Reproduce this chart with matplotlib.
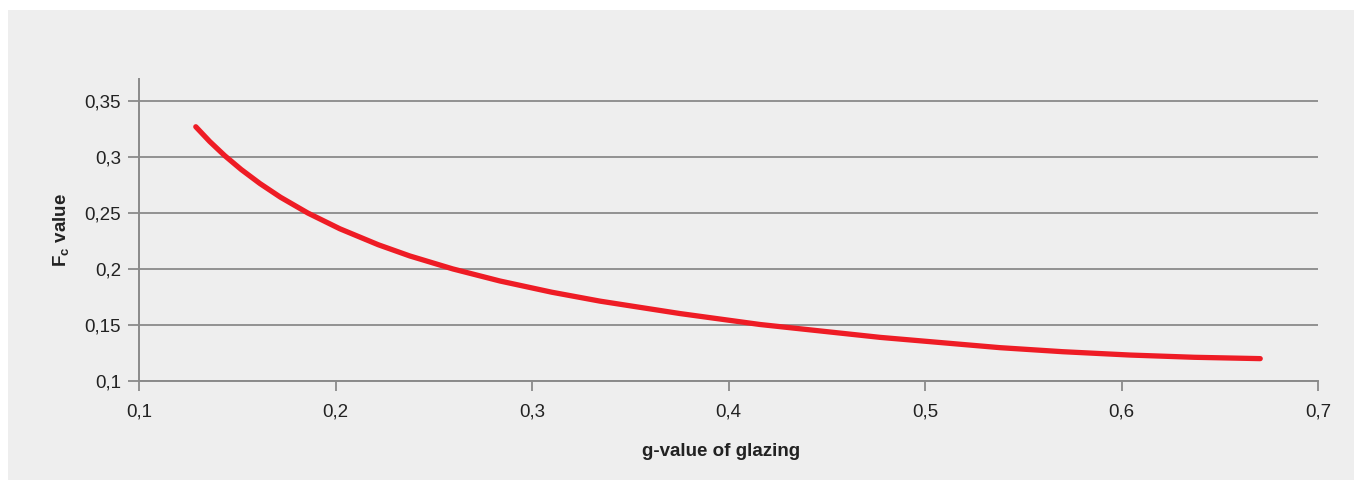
import numpy as np
import matplotlib
matplotlib.use('Agg')
import matplotlib.pyplot as plt
from matplotlib.ticker import FuncFormatter
from matplotlib.patches import Rectangle

# %% Data
g_value = [0.1289, 0.136, 0.1436, 0.152, 0.1615, 0.172, 0.1859, 0.2022, 0.2218, 0.2378,
           0.2597, 0.2837, 0.31, 0.3346, 0.3753, 0.4161, 0.4772, 0.5382, 0.57, 0.6044,
           0.637, 0.6706]
fc_value = [0.3273, 0.3141, 0.3015, 0.2891, 0.2766, 0.2643, 0.2502, 0.2361, 0.2218, 0.2118,
            0.2002, 0.1894, 0.1794, 0.1714, 0.1603, 0.1505, 0.1390, 0.1298, 0.1262, 0.1232,
            0.1212, 0.1200]
x_ticks = [0.1, 0.2, 0.3, 0.4, 0.5, 0.6, 0.7]
y_ticks = [0.1, 0.15, 0.2, 0.25, 0.3, 0.35]

# %% Style
plt.rcParams['font.family'] = ['Liberation Sans', 'DejaVu Sans']
plt.rcParams['mathtext.fontset'] = 'custom'
plt.rcParams['mathtext.rm'] = 'Liberation Sans:bold'
plt.rcParams['mathtext.it'] = 'Liberation Sans:bold'
plt.rcParams['mathtext.bf'] = 'Liberation Sans:bold'

bg = '#eeeeee'
axis_col = '#8a8a8a'
text_col = '#222222'

fig = plt.figure(figsize=(13.57, 4.8), dpi=100, facecolor='white')
# grey panel behind the chart
fig.patches.append(Rectangle((8 / 1357, 0), (1354 - 8) / 1357, (480 - 10) / 480,
                             transform=fig.transFigure, facecolor=bg, edgecolor='none', zorder=-5))

ax = fig.add_axes([139 / 1357, 99 / 480, 1179 / 1357, 302 / 480])
ax.set_facecolor(bg)

ax.plot(g_value, fc_value, color='#ee1c25', linewidth=3.8,
        solid_capstyle='round', solid_joinstyle='round', zorder=3)

ax.set_xlim(0.1, 0.7)
ax.set_ylim(0.1, 0.37)
ax.set_xticks(x_ticks)
ax.set_yticks(y_ticks)

fmt = FuncFormatter(lambda v, p: ('%g' % round(v, 3)).replace('.', ','))
ax.xaxis.set_major_formatter(fmt)
ax.yaxis.set_major_formatter(fmt)

# horizontal grid only
ax.yaxis.grid(True, color=axis_col, linewidth=1.3)
ax.set_axisbelow(True)

for s in ['top', 'right']:
    ax.spines[s].set_visible(False)
for s in ['left', 'bottom']:
    ax.spines[s].set_color(axis_col)
    ax.spines[s].set_linewidth(1.4)

ax.tick_params(axis='y', direction='out', length=8, width=1.3, color=axis_col,
               labelsize=13.5, labelcolor=text_col, pad=5)
ax.tick_params(axis='x', direction='out', length=7, width=1.3, color=axis_col,
               labelsize=13.5, labelcolor=text_col, pad=9)

ax.set_xlabel('g-value of glazing', fontsize=13.5, fontweight='bold', color=text_col)
ax.xaxis.set_label_coords(0.494, -0.205)
ax.set_ylabel(r'F$_\mathrm{c}$ value', fontsize=13.5, fontweight='bold', color=text_col)
ax.yaxis.set_label_coords(-0.058, 0.5)

plt.savefig('out.png', dpi=100, facecolor=fig.get_facecolor())
